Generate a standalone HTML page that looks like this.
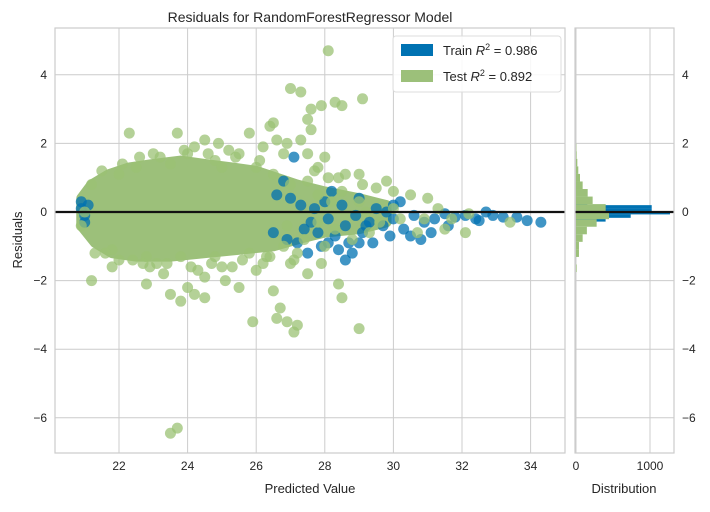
<!DOCTYPE html>
<html><head><meta charset="utf-8"><style>
body{margin:0;background:#fff;}
svg text{font-family:"Liberation Sans",sans-serif;fill:#262626;}
</style></head><body>
<svg id="chart" width="710" height="507" xmlns="http://www.w3.org/2000/svg">
</svg>
<script>
const yTicks=[4,2,0,-2,-4,-6];
const xTicks=[22,24,26,28,30,32,34];
const histTicks=[0,1000];
const trainPred=[20.9,20.9,21.0,21.1,21.0,26.8,27.0,27.3,27.6,27.8,28.1,28.3,28.6,28.9,29.1,29.4,29.7,30.0,30.3,30.6,30.9,31.2,31.5,31.8,32.1,32.4,32.7,33.2,33.6,33.9,34.3,28.0,28.5,29.0,29.5,30.0,26.5,27.2,27.9,28.8,29.0,27.1,28.1,30.5,31.1,32.5,29.8,28.6,27.5,27.4,28.2,28.7,29.3,29.9,30.2,26.9,27.7,28.4,29.2,26.6,31.6,32.9,30.8];
const trainResid=[0.3,0.1,-0.1,0.2,-0.3,0.9,0.4,0.2,-0.3,-0.6,-0.2,-0.7,-0.4,-0.1,-0.6,-0.9,-0.4,-0.2,-0.5,-0.1,-0.3,-0.2,-0.05,-0.15,-0.1,-0.2,0.0,-0.15,-0.15,-0.25,-0.3,0.3,0.2,0.4,0.1,0.2,-0.6,-0.9,-1.0,-1.2,-0.9,1.6,-0.9,-0.7,-0.6,-0.25,0.0,-1.4,-1.2,-0.5,0.6,-0.9,-0.3,-0.7,0.3,-0.8,0.1,-1.1,-0.4,0.5,-0.4,-0.1,-0.8];
const testPred=[27.0,27.3,27.6,27.5,28.1,28.3,28.5,29.1,27.9,27.6,26.4,26.5,26.6,26.9,27.3,27.5,28.0,27.8,26.8,25.5,24.5,23.7,24.0,23.0,22.3,22.5,24.2,25.2,24.8,26.2,29.0,29.5,30.0,30.5,31.0,29.8,30.7,30.9,31.5,33.4,32.1,23.7,23.5,23.5,24.2,24.5,23.8,25.5,26.5,26.7,26.9,27.1,27.2,25.9,26.6,28.5,29.0,28.4,27.5,27.9,24.5,22.9,22.0,21.2,21.3,21.8,23.3,25.0,26.0,27.0,28.0,28.8,29.3,29.6,30.2,29.0,28.5,28.2,27.8,27.5,28.3,26.0,25.0,23.5,22.0,21.2,21.0,20.9,27.4,26.8,25.8,24.8,23.8,22.8,21.8,26.5,27.0,26.9,27.8,29.2,30.0,31.3,31.7,32.2,25.1,24.0,22.8,26.3,27.2,28.6,28.1,25.8,24.9,22.6,23.2,23.9,24.6,25.4,26.1,21.5,22.1,22.7,23.4,24.1,24.7,25.6,26.4,21.6,22.4,23.1,24.3,25.3,26.2,27.1,27.7,28.4,29.1];
const testResid=[3.6,3.5,3.0,2.7,4.7,3.2,3.1,3.3,3.1,2.4,2.5,2.6,2.1,2.0,2.1,1.7,1.6,1.3,1.7,1.7,2.1,2.3,1.7,1.7,2.3,1.3,1.9,1.8,1.5,1.9,1.1,0.7,0.6,0.5,0.4,0.9,-0.6,-0.2,-0.5,-0.3,-0.6,-6.3,-6.45,-2.4,-2.4,-2.5,-2.6,-2.2,-2.3,-2.8,-3.2,-3.5,-3.3,-3.2,-3.1,-2.5,-3.4,-2.1,-1.8,-1.5,-1.9,-1.6,-1.4,-2.0,-1.2,-1.6,-1.8,-1.6,-1.7,-1.5,-1.0,-0.8,-0.6,-0.3,-0.2,0.3,0.6,0.3,-0.3,0.9,-0.5,1.3,1.3,1.4,1.1,0.8,0.0,-0.4,-0.8,-1.0,-1.2,-1.3,-1.3,-1.3,-1.1,1.1,0.8,-0.4,0.5,0.0,0.1,0.1,-0.2,-0.05,-2.0,-2.2,-2.1,-1.3,-1.2,1.1,1.0,2.3,2.0,1.6,1.6,1.8,1.7,1.6,1.5,1.2,1.4,-1.5,-1.5,-1.6,-1.5,-1.4,-1.3,-1.2,-1.4,-1.5,-1.7,-1.6,-1.5,-1.4,1.2,1.0,0.8,0.7];
const coreTopPred=[20.9,21.2,21.7,22.3,23,23.8,24.5,25.3,26,26.6,27.2,28,29,29.8];
const coreTopResid=[0.4,0.8,1.1,1.3,1.4,1.5,1.4,1.3,1.2,1.0,0.8,0.6,0.4,0.2];
const coreBotPred=[29.8,29,28,27.2,26.5,25.5,24.5,23.5,22.5,21.8,21.3,20.9];
const coreBotResid=[-0.3,-0.5,-0.6,-0.8,-1.0,-1.1,-1.2,-1.3,-1.3,-1.2,-0.9,-0.4];
const trainBinLo=[0.2,0.1,0.0,-0.07,-0.17,-0.28];
const trainBinHi=[0.29,0.2,0.1,0.0,-0.07,-0.17];
const trainCounts=[153,1023,1023,1270,739,400];
const testBinLo=[-1.75,-1.53,-1.31,-1.09,-0.87,-0.65,-0.43,-0.21,0.01,0.23,0.45,0.67,0.89,1.11,1.33,1.55,1.77];
const testCounts=[9,0,40,40,90,147,279,446,401,225,158,90,54,31,18,9,5];
const binW=0.22;

const NS="http://www.w3.org/2000/svg";
const svg=document.getElementById('chart');
const L=55,R=565,T=28,B=453,HL=575,HR=674;
const xs=v=>119+(v-22)*34.3;
const ys=v=>212-v*34.3;
const hs=c=>576+c*0.074;
function mk(tag,attrs,parent){const e=document.createElementNS(NS,tag);for(const k in attrs)e.setAttribute(k,attrs[k]);(parent||svg).appendChild(e);return e;}

const clip=mk('clipPath',{id:'mainclip'});mk('rect',{x:L,y:T,width:R-L,height:B-T},clip);
const clip2=mk('clipPath',{id:'histclip'});mk('rect',{x:HL,y:T,width:HR-HL,height:B-T},clip2);

xTicks.forEach(t=>{const l=mk('line',{x1:xs(t),x2:xs(t),y1:T,y2:B,stroke:'#cccccc','stroke-width':1});


const tx=mk('text',{x:xs(t),y:B+17,'text-anchor':'middle','font-size':12});tx.textContent=t;

});
yTicks.forEach(t=>{const l=mk('line',{x1:L,x2:R,y1:ys(t),y2:ys(t),stroke:'#cccccc','stroke-width':1});


const l2=mk('line',{x1:HL,x2:HR,y1:ys(t),y2:ys(t),stroke:'#cccccc','stroke-width':1});


const tx=mk('text',{x:L-8,y:ys(t)+4,'text-anchor':'end','font-size':12});tx.textContent=(t<0?'\u2212'+(-t):t);


const tx2=mk('text',{x:HR+8,y:ys(t)+4,'text-anchor':'start','font-size':12});tx2.textContent=(t<0?'\u2212'+(-t):t);

});
histTicks.forEach(t=>{const l=mk('line',{x1:hs(t),x2:hs(t),y1:T,y2:B,stroke:'#cccccc','stroke-width':1});


const tx=mk('text',{x:hs(t),y:B+17,'text-anchor':'middle','font-size':12});tx.textContent=t;

});

const g=mk('g',{'clip-path':'url(#mainclip)'});


let d='M'+coreTopPred.map((p,i)=>xs(p)+','+ys(coreTopResid[i])).join(' L')+' L'+coreBotPred.map((p,i)=>xs(p)+','+ys(coreBotResid[i])).join(' L')+' Z';
const core=mk('path',{d:d,fill:'#9cc07a',stroke:'#9cc07a','stroke-width':10,'stroke-linejoin':'round'},g);


trainPred.forEach((p,i)=>{const c=mk('circle',{cx:xs(p),cy:ys(trainResid[i]),r:5.5,fill:'#0072b2','fill-opacity':0.75},g);

});
testPred.forEach((p,i)=>{const c=mk('circle',{cx:xs(p),cy:ys(testResid[i]),r:5.5,fill:'#9bc174','fill-opacity':0.75},g);

});
const zl=mk('line',{x1:L,x2:R,y1:ys(0),y2:ys(0),stroke:'#111','stroke-width':2.2});



const hg=mk('g',{'clip-path':'url(#histclip)'});


trainCounts.forEach((c,i)=>{const r=mk('rect',{x:hs(0),y:ys(trainBinHi[i]),width:hs(c)-hs(0),height:ys(trainBinLo[i])-ys(trainBinHi[i]),fill:'#0072b2'},hg);

});
testCounts.forEach((c,i)=>{const r=mk('rect',{x:hs(0),y:ys(testBinLo[i]+binW),width:hs(c)-hs(0),height:ys(testBinLo[i])-ys(testBinLo[i]+binW),fill:'#9cc07a'},hg);

});
const zl2=mk('line',{x1:HL,x2:HR,y1:ys(0),y2:ys(0),stroke:'#111','stroke-width':2.2});



const f1=mk('rect',{x:L,y:T,width:R-L,height:B-T,fill:'none',stroke:'#cccccc','stroke-width':1.2});


const f2=mk('rect',{x:HL,y:T,width:HR-HL,height:B-T,fill:'none',stroke:'#cccccc','stroke-width':1.2});


</script>
<svg style="position:absolute;left:0;top:0" width="710" height="507">
<text x="310" y="22" text-anchor="middle" font-size="14" font-family="Liberation Sans, sans-serif" fill="#262626">Residuals for RandomForestRegressor Model</text>
<text x="310" y="493" text-anchor="middle" font-size="13" font-family="Liberation Sans, sans-serif" fill="#262626">Predicted Value</text>
<text x="624" y="493" text-anchor="middle" font-size="13" font-family="Liberation Sans, sans-serif" fill="#262626">Distribution</text>
<text transform="translate(22,240) rotate(-90)" text-anchor="middle" font-size="13" font-family="Liberation Sans, sans-serif" fill="#262626">Residuals</text>
<g>
<rect x="393" y="36" width="168" height="56" fill="#fff" fill-opacity="0.85" stroke="#dddddd" rx="3"/>
<rect x="401" y="44" width="32" height="12" fill="#0072b2"/>
<text x="443" y="55" font-size="13" font-family="Liberation Sans, sans-serif" fill="#262626">Train <tspan font-style="italic">R</tspan><tspan font-size="9" dy="-5">2</tspan><tspan dy="5"> = 0.986</tspan></text>
<rect x="401" y="70" width="32" height="12" fill="#9cc07a"/>
<text x="443" y="81" font-size="13" font-family="Liberation Sans, sans-serif" fill="#262626">Test <tspan font-style="italic">R</tspan><tspan font-size="9" dy="-5">2</tspan><tspan dy="5"> = 0.892</tspan></text>
</g>
</svg>
</body></html>
